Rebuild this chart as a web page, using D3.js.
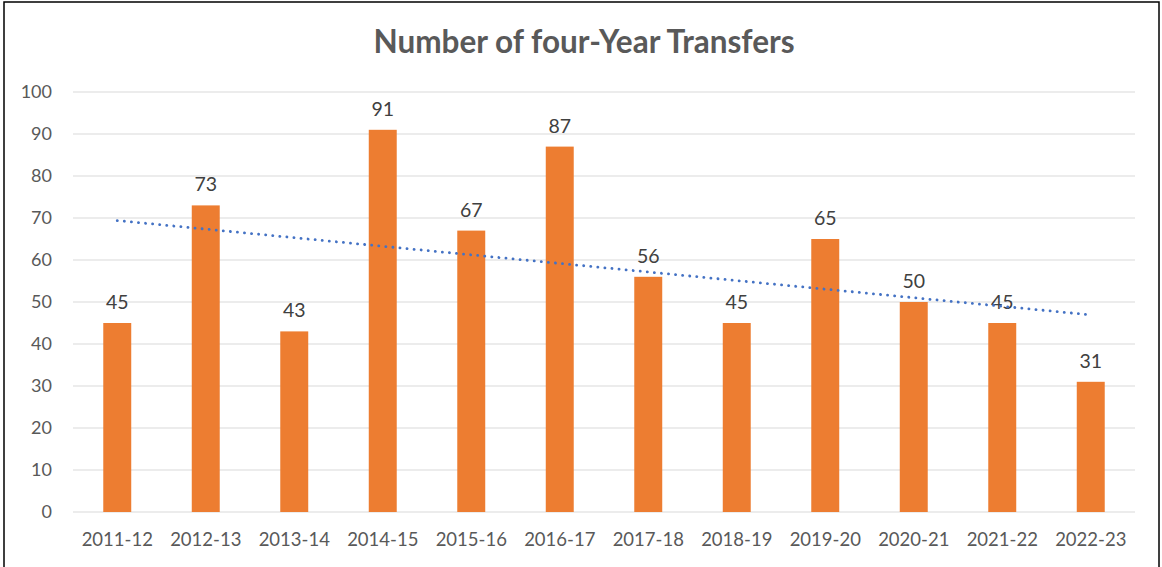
<!DOCTYPE html>
<html>
<head>
<meta charset="utf-8">
<script src="https://cdn.jsdelivr.net/npm/d3@7"></script>
<style>
  body { margin: 0; background: #fff; }
  svg text { font-family: Lato, "Open Sans", sans-serif; }
</style>
</head>
<body>
<svg id="chart" width="1162" height="567"></svg>
<script>
var years = ["2011-12", "2012-13", "2013-14", "2014-15", "2015-16", "2016-17",
  "2017-18", "2018-19", "2019-20", "2020-21", "2021-22", "2022-23"];
var transfers = [45, 73, 43, 91, 67, 87, 56, 45, 65, 50, 45, 31];
var yTicks = [0, 10, 20, 30, 40, 50, 60, 70, 80, 90, 100];

var svg = d3.select("#chart");

// outer frame
svg.append("rect")
  .attr("x", 4).attr("y", 2)
  .attr("width", 1155).attr("height", 570)
  .attr("fill", "none")
  .attr("stroke", "#000")
  .attr("stroke-width", 1.5);

svg.append("text")
  .attr("x", 584).attr("y", 53)
  .attr("text-anchor", "middle")
  .attr("font-size", 31.5)
  .attr("font-weight", "bold")
  .attr("fill", "#595959")
  .text("Number of four-Year Transfers");

var x = d3.scaleBand().domain(years).range([73, 1135]).paddingInner(0.684).paddingOuter(0.342);
var y = d3.scaleLinear().domain([0, 100]).range([512, 92]);

// gridlines
svg.append("g")
  .selectAll("line")
  .data(yTicks)
  .join("line")
  .attr("x1", 73).attr("x2", 1135)
  .attr("y1", function (d) { return y(d); })
  .attr("y2", function (d) { return y(d); })
  .attr("stroke", "#d9d9d9")
  .attr("stroke-width", 1);

// y axis labels
var yAxis = svg.append("g")
  .attr("transform", "translate(60,0)")
  .call(d3.axisLeft(y).tickValues(yTicks).tickSize(0).tickPadding(8));
yAxis.select(".domain").remove();
yAxis.selectAll("text")
  .attr("font-size", 18)
  .attr("fill", "#595959")
  .style("font-family", "Lato, 'Open Sans', sans-serif");

// x axis labels
var xAxis = svg.append("g")
  .attr("transform", "translate(0,512)")
  .call(d3.axisBottom(x).tickSize(0).tickPadding(21));
xAxis.select(".domain").remove();
xAxis.selectAll("text")
  .attr("font-size", 18.5)
  .attr("fill", "#595959")
  .style("font-family", "Lato, 'Open Sans', sans-serif");

// bars
svg.append("g")
  .selectAll("rect")
  .data(transfers)
  .join("rect")
  .attr("x", function (d, i) { return x(years[i]); })
  .attr("y", function (d) { return y(d); })
  .attr("width", x.bandwidth())
  .attr("height", function (d) { return y(0) - y(d); })
  .attr("fill", "#ED7D31");

// value labels
svg.append("g")
  .selectAll("text")
  .data(transfers)
  .join("text")
  .attr("x", function (d, i) { return x(years[i]) + x.bandwidth() / 2; })
  .attr("y", function (d) { return y(d) - 14; })
  .attr("text-anchor", "middle")
  .attr("font-size", 19.5)
  .attr("fill", "#404040")
  .text(function (d) { return d; });

// linear trendline (least squares over the bar values)
var n = transfers.length;
var mx = d3.mean(transfers, function (d, i) { return i; });
var my = d3.mean(transfers);
var sxy = d3.sum(transfers, function (d, i) { return (i - mx) * (d - my); });
var sxx = d3.sum(transfers, function (d, i) { return (i - mx) * (i - mx); });
var slope = sxy / sxx;
var trend = [0, n - 1].map(function (i) { return { i: i, v: my + slope * (i - mx) }; });

svg.append("path")
  .datum(trend)
  .attr("d", d3.line()
    .x(function (d) { return x(years[d.i]) + x.bandwidth() / 2; })
    .y(function (d) { return y(d.v); }))
  .attr("fill", "none")
  .attr("stroke", "#4472C4")
  .attr("stroke-width", 2.8)
  .attr("stroke-linecap", "round")
  .attr("stroke-dasharray", "0.1 7");
</script>
</body>
</html>
